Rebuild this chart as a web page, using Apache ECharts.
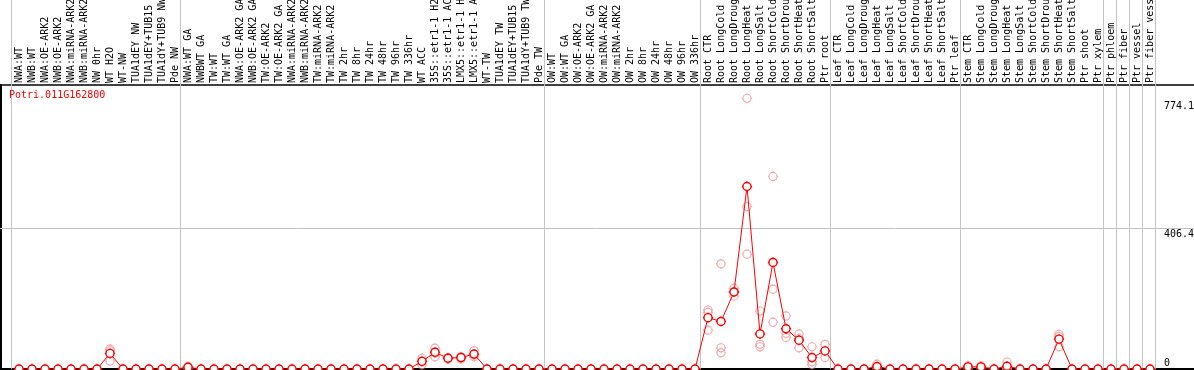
<!DOCTYPE html>
<html>
<head>
<meta charset="utf-8">
<script src="https://cdn.jsdelivr.net/npm/echarts@6/dist/echarts.min.js"></script>
<style>
html,body{margin:0;padding:0;background:#fff;}
#c{width:1194px;height:370px;}
</style>
</head>
<body>
<div id="c"></div>
<script>
const geneName = 'Potri.011G162800';

const categories = [
  'NWA:WT','NWB:WT','NWA:OE-ARK2','NWB:OE-ARK2','NWA:miRNA-ARK2','NWB:miRNA-ARK2','NW 0hr','WT H2O','WT-NW','TUA1dEY NW','TUA1dEY+TUB15','TUA1dY+TUB9 NW','Pde NW',
  'NWA:WT GA','NWBWT GA','TW:WT','TW:WT GA','NWA:OE-ARK2 GA','NWB:OE-ARK2 GA','TW:OE-ARK2','TW:OE-ARK2 GA','NWA:miRNA-ARK2','NWB:miRNA-ARK2','TW:miRNA-ARK2','TW:miRNA-ARK2','TW 2hr','TW 8hr','TW 24hr','TW 48hr','TW 96hr','TW 336hr','WT ACC','35S::etr1-1 H2O','35S::etr1-1 ACC','LMX5::etr1-1 H2O','LMX5::etr1-1 ACC','WT-TW','TUA1dEY TW','TUA1dEY+TUB15','TUA1dY+TUB9 TW','Pde TW',
  'OW:WT','OW:WT GA','OW:OE-ARK2','OW:OE-ARK2 GA','OW:miRNA-ARK2','OW:miRNA-ARK2','OW 2hr','OW 8hr','OW 24hr','OW 48hr','OW 96hr','OW 336hr',
  'Root CTR','Root LongCold','Root LongDrought','Root LongHeat','Root LongSalt','Root ShortCold','Root ShortDrought','Root ShortHeat','Root ShortSalt','Ptr root',
  'Leaf CTR','Leaf LongCold','Leaf LongDrought','Leaf LongHeat','Leaf LongSalt','Leaf ShortCold','Leaf ShortDrought','Leaf ShortHeat','Leaf ShortSalt','Ptr leaf',
  'Stem CTR','Stem LongCold','Stem LongDrought','Stem LongHeat','Stem LongSalt','Stem ShortCold','Stem ShortDrought','Stem ShortHeat','Stem ShortSalt','Ptr shoot',
  'Ptr xylem','Ptr phloem','Ptr fiber','Ptr vessel','Ptr fiber vessel'
];

const meanValues = [
  0,0,0,0,0,0,0,45,0,0,0,0,0,
  5,0,0,0,0,0,0,0,0,0,0,0,0,0,0,0,0,0,22,48,31,33,43,0,0,0,0,0,
  0,0,0,0,0,0,0,0,0,0,0,0,
  148,137,222,526,101,307,116,83,33,52,
  0,0,0,7,0,0,0,0,0,0,
  6,6,0,8,0,0,0,86,0,0,
  0,0,0,0,0
];

const replicateValues = [
  [],[],[],[],[],[],[],[58,53,23],[],[],[],[],[],
  [8,4,3],[],[],[],[],[],[],[],[],[],[],[],[],[],[],[],[],[],[31,12,23],[60,35,49],[33,29,31],[35,29,35],[53,35,41],[],[],[],[],[],
  [],[],[],[],[],[],[],[],[],[],[],[],
  [170,163,112],[303,61,47],[233,210,222],[780,468,331],[167,71,64],[555,230,135],[153,103,91],[101,88,61],[64,21,13],[71,33],
  [],[],[],[14,4,3],[],[],[],[],[],[],
  [10,5,3],[9,5,4],[],[20,3,1],[],[],[],[100,64,94],[],[],
  [],[],[],[],[]
];

const groupStarts = [0,13,41,53,63,73,84,85,86,87,88];
const rightLabels = [774.1, 406.4, 0];
const gridLineValue = 406.4;

const FONT = 'DejaVu Sans Mono';
const X_MIN = -2;
const X_MAX = -2 + 1201 / 13;
const Y_MAX = 284 / 0.347;
const SYMBOL = 'path://M6,1.6C8.43,1.6,10.4,3.57,10.4,6C10.4,8.43,8.43,10.4,6,10.4C3.57,10.4,1.6,8.43,1.6,6C1.6,3.57,3.57,1.6,6,1.6Z' +
  'M6,0.4L6,1.6M6,10.4L6,11.6M0.4,6L1.6,6M10.4,6L11.6,6M0,0M12,12';

const sepPositions = groupStarts.map(s => s - 8 / 13);

const meanData = meanValues.map((v, i) => [i, v]);
const repData = [];
replicateValues.forEach((arr, i) => arr.forEach(v => repData.push([i, v])));

const chart = echarts.init(document.getElementById('c'), null, {renderer: 'canvas'});

const option = {
  animation: false,
  backgroundColor: '#fff',
  title: {
    text: geneName, left: 9, top: 90, padding: 0,
    textStyle: {color: '#ff0000', fontFamily: FONT, fontSize: 10, fontWeight: 'normal'}
  },
  grid: [
    {left: -7, right: 0, top: 85, bottom: 1, containLabel: false, outerBoundsMode: 'none'},
    {left: -7, right: 0, top: 0, height: 85, containLabel: false, outerBoundsMode: 'none'}
  ],
  xAxis: [
    {
      gridIndex: 0, type: 'value', position: 'top', min: X_MIN, max: X_MAX, interval: 1,
      axisLine: {show: true, onZero: false, lineStyle: {color: '#000', width: 1.5}},
      axisTick: {show: false}, splitLine: {show: false}, axisLabel: {show: false}
    },
    {
      gridIndex: 0, type: 'value', position: 'bottom', min: X_MIN, max: X_MAX,
      axisLine: {show: true, onZero: false, lineStyle: {color: '#000', width: 2}},
      axisTick: {show: false}, axisLabel: {show: false}, splitLine: {show: false}
    },
    {gridIndex: 1, type: 'value', min: X_MIN, max: X_MAX, show: false}
  ],
  yAxis: [
    {
      gridIndex: 0, type: 'value', min: 0, max: Y_MAX, offset: -8,
      axisLine: {show: true, onZero: false, lineStyle: {color: '#000', width: 2}},
      axisTick: {show: false}, axisLabel: {show: false}, splitLine: {show: false}
    },
    {gridIndex: 1, type: 'value', min: 0, max: 1, show: false}
  ],
  series: [
    {
      name: 'replicates', type: 'scatter', xAxisIndex: 0, yAxisIndex: 0,
      data: repData, symbol: SYMBOL, symbolSize: 11, z: 2, silent: true,
      itemStyle: {color: 'rgba(255,255,255,0)', borderColor: '#ee9494', borderWidth: 1.1}
    },
    {
      name: 'mean', type: 'line', xAxisIndex: 0, yAxisIndex: 0,
      data: meanData, symbol: SYMBOL, symbolSize: 11, showAllSymbol: true, z: 3, silent: true,
      lineStyle: {color: '#ff0000', width: 1},
      itemStyle: {color: '#ffffff', borderColor: '#ff0000', borderWidth: 1.4},
      markLine: {
        silent: true, symbol: 'none', z: 1, animation: false,
        label: {show: false},
        lineStyle: {color: '#c4c4c4', width: 1, type: 'solid'},
        data: sepPositions.map(x => ({xAxis: x})).concat([{yAxis: gridLineValue}])
      }
    },
    {
      name: 'header', type: 'line', xAxisIndex: 2, yAxisIndex: 1,
      data: [[-5, 0.5]], symbol: 'none', silent: true,
      markLine: {
        silent: true, symbol: 'none', z: 1, animation: false,
        label: {show: false},
        lineStyle: {color: '#c4c4c4', width: 1, type: 'solid'},
        data: sepPositions.map(x => ({xAxis: x}))
      }
    }
  ]
};

chart.setOption(option);

const gridTopPx = chart.convertToPixel({yAxisIndex: 0}, Y_MAX);
const gridBottomPx = chart.convertToPixel({yAxisIndex: 0}, 0);

const headerGraphics = categories.map((name, i) => ({
  type: 'text', silent: true,
  x: chart.convertToPixel({xAxisIndex: 0}, i),
  y: gridTopPx - 2,
  rotation: Math.PI / 2,
  style: {
    text: name, fill: '#000', font: '10px ' + FONT,
    textAlign: 'left', textVerticalAlign: 'middle'
  }
}));

const labelGraphics = rightLabels.map(v => {
  const py = chart.convertToPixel({yAxisIndex: 0}, v);
  const below = py + 12 <= gridBottomPx;
  return {
    type: 'text', x: 1164, y: below ? py + 1 : py - 1, silent: true,
    style: {
      text: String(v), fill: '#000', font: '10px ' + FONT,
      textAlign: 'left', textVerticalAlign: below ? 'top' : 'bottom'
    }
  };
});
chart.setOption({graphic: headerGraphics.concat(labelGraphics)});
</script>
</body>
</html>
